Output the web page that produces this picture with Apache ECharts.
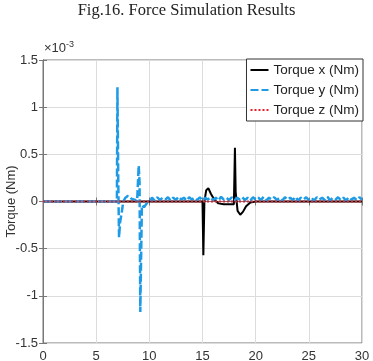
<!DOCTYPE html>
<html>
<head>
<meta charset="utf-8">
<script src="https://cdn.jsdelivr.net/npm/echarts@6/dist/echarts.min.js"></script>
<style>
html,body{margin:0;padding:0;background:#fff;}
#chart{width:373px;height:361px;}
</style>
</head>
<body>
<div id="chart"></div>
<script>
// values are in units of 1e-3 Nm (axis shows x10^-3)
var xTicks = [0, 5, 10, 15, 20, 25, 30];
var yTicks = [-1.5, -1, -0.5, 0, 0.5, 1, 1.5];

// Torque x
var timeX = [0, 15.0, 15.08, 15.18, 15.35, 15.55, 15.8, 16.1, 16.5, 17.0, 17.5, 17.95, 18.05, 18.12, 18.3, 18.55, 18.8, 19.1, 19.5, 20, 30];
var torqueX = [0, 0, -0.57, 0.0, 0.12, 0.14, 0.08, 0.02, -0.02, -0.03, -0.03, -0.03, 0.57, 0.1, -0.1, -0.14, -0.11, -0.05, -0.01, 0, 0];

// Torque y (noisy small offset after t=10)
var timeY = [0, 6.95, 7.0, 7.08, 7.15, 7.25, 7.4, 7.55, 7.75, 8.0, 8.3, 8.6, 8.85, 9.0, 9.08, 9.15, 9.3, 9.5, 9.75, 10.1,
  10.25, 10.5, 10.75, 11, 11.25, 11.5, 11.75, 12, 12.25, 12.5, 12.75, 13, 13.25, 13.5, 13.75, 14, 14.25, 14.5, 14.75, 15,
  15.25, 15.5, 15.75, 16, 16.25, 16.5, 16.75, 17, 17.25, 17.5, 17.75, 18, 18.25, 18.5, 18.75, 19, 19.25, 19.5, 19.75, 20,
  20.25, 20.5, 20.75, 21, 21.25, 21.5, 21.75, 22, 22.25, 22.5, 22.75, 23, 23.25, 23.5, 23.75, 24, 24.25, 24.5, 24.75, 25,
  25.25, 25.5, 25.75, 26, 26.25, 26.5, 26.75, 27, 27.25, 27.5, 27.75, 28, 28.25, 28.5, 28.75, 29, 29.25, 29.5, 29.75, 30];
var torqueY = [0, 0, 1.21, 0.2, -0.38, -0.22, -0.12, 0.0, 0.04, 0.06, 0.03, 0.02, 0.0, 0.38, 0.2, -1.17, -0.04, -0.06, -0.02, 0.01,
  0.04, 0.01, 0.045, 0.015, 0.04, 0.02, 0.045, 0.01, 0.04, 0.015, 0.05, 0.02, 0.04, 0.01, 0.045, 0.02, 0.04, 0.015, 0.045, 0.01,
  0.04, 0.02, 0.045, 0.015, 0.04, 0.01, 0.05, 0.02, 0.04, 0.015, 0.045, 0.01, 0.04, 0.02, 0.045, 0.015, 0.04, 0.01, 0.045, 0.02,
  0.04, 0.015, 0.05, 0.01, 0.04, 0.02, 0.045, 0.015, 0.04, 0.01, 0.045, 0.02, 0.04, 0.015, 0.05, 0.01, 0.04, 0.02, 0.045, 0.015,
  0.04, 0.01, 0.045, 0.02, 0.04, 0.015, 0.05, 0.01, 0.04, 0.02, 0.045, 0.015, 0.04, 0.01, 0.045, 0.02, 0.04, 0.015, 0.045, 0.02];

// Torque z
var timeZ = [0, 30];
var torqueZ = [0, 0];

function pairs(t, v) {
  var out = [];
  for (var i = 0; i < t.length; i++) out.push([t[i], v[i]]);
  return out;
}

var font = 'Liberation Sans, Arial, sans-serif';
var myChart = echarts.init(document.getElementById('chart'));
var option = {
  animation: false,
  title: {
    text: 'Fig.16. Force Simulation Results',
    left: 'center',
    top: -3,
    textStyle: {fontFamily: 'Liberation Serif, Times New Roman, serif', fontSize: 16.5, fontWeight: 'normal', color: '#222'}
  },
  graphic: [{
    type: 'text',
    left: 44,
    top: 40,
    style: {
      text: '×10{sup|-3}',
      font: '13px ' + font,
      fill: '#333',
      rich: {sup: {fontSize: 9, fontFamily: font, verticalAlign: 'top', padding: [0, 0, 8, 0], fill: '#333'}}
    }
  }],
  grid: {left: 43, right: 11, top: 60, bottom: 18, outerBoundsMode: 'none', containLabel: false,
    show: true, borderColor: '#777', borderWidth: 1},
  legend: {
    orient: 'vertical',
    right: 10,
    top: 59,
    itemWidth: 18,
    itemHeight: 10,
    itemGap: 6,
    padding: [4, 4, 4, 3],
    backgroundColor: '#fff',
    borderColor: '#333',
    borderWidth: 1,
    itemStyle: {opacity: 0},
    textStyle: {fontFamily: font, fontSize: 13.5, color: '#222'}
  },
  xAxis: [{
    type: 'value', min: 0, max: 30, interval: 5,
    axisLine: {lineStyle: {color: '#777'}},
    axisTick: {inside: true, length: 4, lineStyle: {color: '#777'}},
    axisLabel: {fontFamily: font, fontSize: 13, color: '#333', margin: 7,
      customValues: xTicks},
    splitLine: {show: true, lineStyle: {color: '#dcdcdc'}}
  }, {
    type: 'value', min: 0, max: 30, interval: 5, position: 'top',
    axisLine: {lineStyle: {color: '#777'}},
    axisTick: {inside: true, length: 4, lineStyle: {color: '#777'}},
    axisLabel: {show: false}, splitLine: {show: false}
  }],
  yAxis: [{
    type: 'value', min: -1.5, max: 1.5, interval: 0.5,
    name: 'Torque (Nm)', nameLocation: 'middle', nameGap: 25, nameMoveOverlap: false,
    nameTextStyle: {fontFamily: font, fontSize: 13, color: '#333'},
    axisLine: {show: true, lineStyle: {color: '#777'}},
    axisTick: {show: true, inside: true, length: 4, lineStyle: {color: '#777'}},
    axisLabel: {fontFamily: font, fontSize: 13, color: '#333', margin: 5,
      customValues: yTicks},
    splitLine: {show: true, lineStyle: {color: '#dcdcdc'}}
  }, {
    type: 'value', min: -1.5, max: 1.5, interval: 0.5, position: 'right',
    axisLine: {show: true, lineStyle: {color: '#777'}},
    axisTick: {show: true, inside: true, length: 4, lineStyle: {color: '#777'}},
    axisLabel: {show: false}, splitLine: {show: false}
  }],
  series: [{
    name: 'Torque x (Nm)', type: 'line', symbol: 'none', smooth: false,
    data: pairs(timeX, torqueX),
    itemStyle: {color: '#000'},
    lineStyle: {color: '#000', width: 2}
  }, {
    name: 'Torque y (Nm)', type: 'line', symbol: 'none',
    data: pairs(timeY, torqueY),
    itemStyle: {color: '#1f9be6'},
    lineStyle: {color: '#1f9be6', width: 2.5, type: [8, 3]}
  }, {
    name: 'Torque z (Nm)', type: 'line', symbol: 'none',
    data: pairs(timeZ, torqueZ),
    itemStyle: {color: '#e8202a'},
    lineStyle: {color: '#e8202a', width: 2, type: [2, 2]}
  }]
};
if (option && typeof option === 'object') {
  myChart.setOption(option, true);
}
</script>
</body>
</html>
